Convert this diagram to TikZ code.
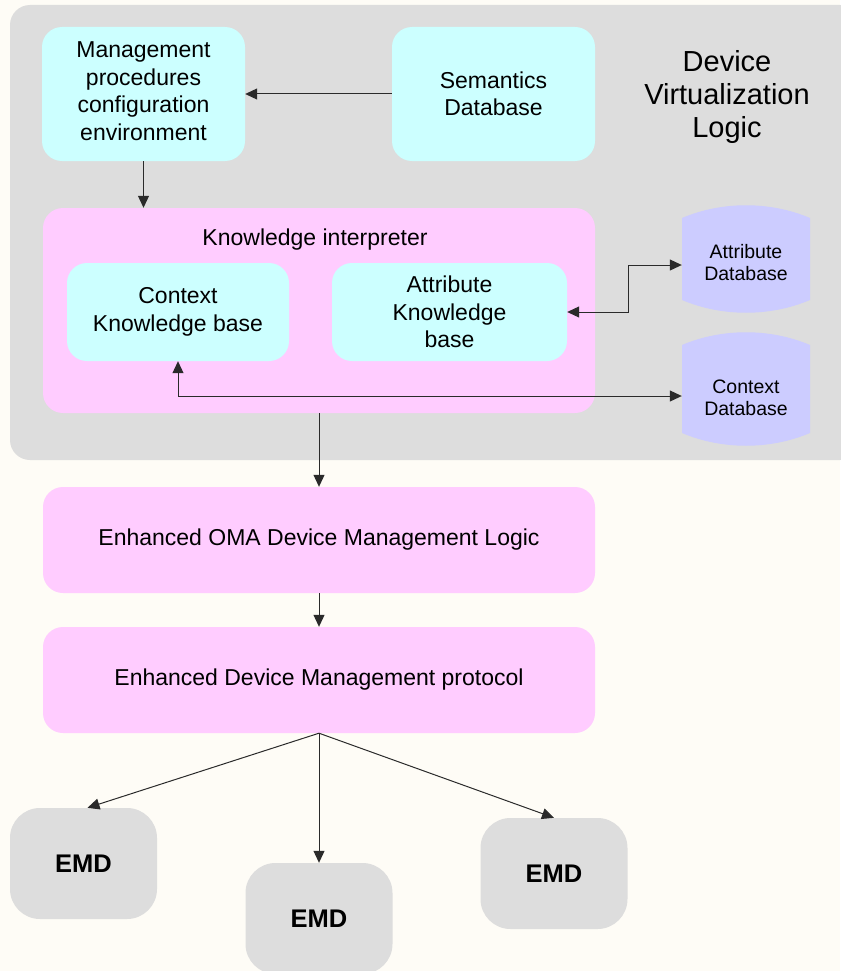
\documentclass[tikz,border=0pt]{standalone}
\usepackage{fontspec}
\setmainfont{Liberation Sans}
\usetikzlibrary{arrows.meta,calc}

\definecolor{pagebg}{HTML}{FEFCF6}
\definecolor{panelgray}{HTML}{DDDDDD}
\definecolor{cyanfill}{HTML}{CCFFFF}
\definecolor{pinkfill}{HTML}{FFCCFF}
\definecolor{dbfill}{HTML}{CCCCFF}
\definecolor{linegray}{HTML}{2A2A2A}

\pgfdeclarelayer{bg}
\pgfsetlayers{bg,main}

\tikzset{
  txt/.style={align=center, inner sep=0pt, font=\fontsize{23}{27.5}\selectfont},
  cyanbox/.style={txt, fill=cyanfill, rounded corners=20pt},
  pinkbox/.style={txt, fill=pinkfill, rounded corners=20pt},
  emdbox/.style={align=center, inner sep=0pt, fill=panelgray, rounded corners=30pt,
    minimum width=147pt, minimum height=111pt, font=\fontsize{25.5}{30}\selectfont\bfseries},
  dbtext/.style={align=center, inner sep=0pt, minimum width=128pt,
    font=\fontsize{19.5}{22}\selectfont},
  tip/.tip={Triangle[length=12pt,width=11pt]},
  conn/.style={draw=linegray, line width=1pt, -tip},
  conn2/.style={conn, tip-tip}
}

\begin{document}
\begin{tikzpicture}[x=1pt,y=-1pt]
\useasboundingbox (0,0) rectangle (840,971);

% ---- background, panel and database outlines ----
\fill[pagebg] (0,0) rectangle (840,971);
\fill[panelgray, rounded corners=20pt] (10,5) rectangle (860,460);
\fill[dbfill] (682,300) -- (682,218)
  .. controls (722,201) and (770,201) .. (810,218)
  -- (810,300)
  .. controls (770,317) and (722,317) .. (682,300) -- cycle;
\fill[dbfill] (682,433) -- (682,345)
  .. controls (722,328) and (770,328) .. (810,345)
  -- (810,433)
  .. controls (770,450) and (722,450) .. (682,433) -- cycle;

% ---- boxes of the device virtualization logic ----
\node[cyanbox, minimum width=203pt, minimum height=134pt] (mgmt) at (143.5,94) {};
\node[txt] (mgmttext) at (143.5,91)
  {Management\\procedures\\configuration\\environment};
\node[cyanbox, minimum width=203pt, minimum height=134pt] (sem) at (493.5,94)
  {Semantics\\Database};
\node[txt, font=\fontsize{29}{33}\selectfont] (dvl) at (727,97)
  {Device\\Virtualization\\Logic};

\node[pinkbox, minimum width=552pt, minimum height=205pt] (ki) at (319,310.5) {};
\node[txt] (kilabel) at (315,240) {Knowledge interpreter};
\node[cyanbox, minimum width=222pt, minimum height=98pt] (ckb) at (178,312)
  {Context\\Knowledge base};
\node[cyanbox, minimum width=235pt, minimum height=98pt] (akb) at (449.5,312)
  {Attribute\\Knowledge\\base};

% ---- database labels ----
\node[dbtext] (adb) at (746,263) {Attribute\\Database};
\node[dbtext] (cdb) at (746,398) {Context\\Database};

% ---- management layers ----
\node[pinkbox, minimum width=552pt, minimum height=106pt] (oma) at (319,540)
  {Enhanced OMA Device Management Logic};
\node[pinkbox, minimum width=552pt, minimum height=106pt] (dmp) at (319,680)
  {Enhanced Device Management protocol};

% ---- devices ----
\node[emdbox] (emda) at (83.5,863.5) {EMD};
\node[emdbox] (emdb) at (319,918.5) {EMD};
\node[emdbox] (emdc) at (554,873.5) {EMD};

% ---- connectors ----
\draw[conn] (sem.west) -- (mgmt.east);
\draw[conn] (mgmt.south) -- (mgmt.south |- ki.north);
\draw[conn2] (akb.east) -- ++(61,0) |- ([yshift=-2pt]adb.west);
\draw[conn2] (ckb.south) |- ([yshift=2pt]cdb.west);
\draw[conn] (ki.south) -- (oma.north);
\draw[conn] (oma.south) -- (dmp.north);
\draw[conn] (dmp.south) -- ([xshift=4pt]emda.north);
\draw[conn] (dmp.south) -- (emdb.north);
\draw[conn] (dmp.south) -- (emdc.north);
\end{tikzpicture}
\end{document}
